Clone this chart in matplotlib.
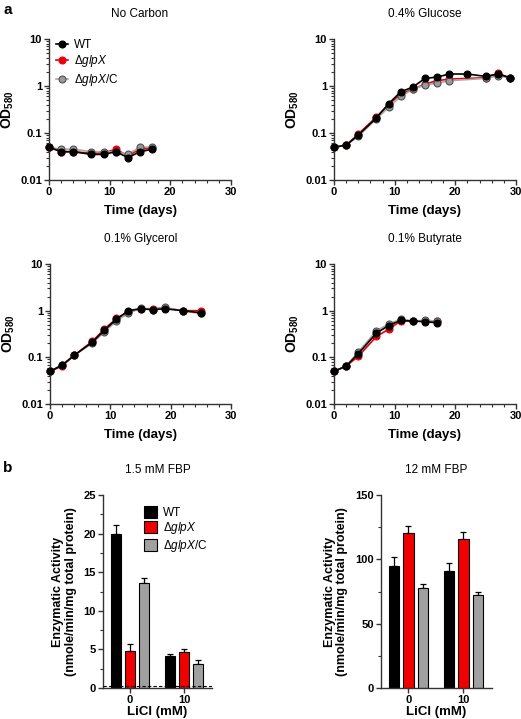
import matplotlib
matplotlib.use("Agg")
import matplotlib.pyplot as plt
import numpy as np
from matplotlib.ticker import MultipleLocator, LogLocator, NullFormatter

plt.rcParams["font.family"] = ["Liberation Sans", "DejaVu Sans"]
plt.rcParams["mathtext.fontset"] = "custom"
plt.rcParams["mathtext.rm"] = "Liberation Sans"
plt.rcParams["mathtext.it"] = "Liberation Sans:italic"
plt.rcParams["mathtext.bf"] = "Liberation Sans:bold"

# ====== DATA ======
STRAINS = ["WT", r"$\Delta$$\it{glpX}$", r"$\Delta$$\it{glpX}$/C"]

# growth curves (OD580)
nocarb_t = [0, 2, 4, 7, 9, 11, 13, 15, 17]
nocarb_wt = [0.05, 0.04, 0.04, 0.035, 0.035, 0.04, 0.03, 0.04, 0.045]
nocarb_ko = [0.05, 0.04, 0.04, 0.037, 0.038, 0.045, 0.033, 0.045, 0.048]
nocarb_c = [0.05, 0.045, 0.045, 0.04, 0.04, 0.04, 0.035, 0.05, 0.05]

gluc_t_wt = [0, 2, 4, 7, 9, 11, 13, 15, 17, 19, 22, 25, 27, 29]
gluc_wt = [0.05, 0.055, 0.09, 0.21, 0.42, 0.75, 0.95, 1.45, 1.55, 1.8, 1.8, 1.6, 1.8, 1.5]
gluc_t = [0, 2, 4, 7, 9, 11, 13, 15, 17, 19, 25, 27, 29]
gluc_ko = [0.05, 0.055, 0.095, 0.22, 0.4, 0.68, 0.85, 1.1, 1.3, 1.4, 1.5, 1.85, 1.5]
gluc_c = [0.05, 0.055, 0.085, 0.2, 0.35, 0.6, 0.85, 1.05, 1.15, 1.3, 1.45, 1.65, 1.5]

glyc_t = [0, 2, 4, 7, 9, 11, 13, 15, 17, 19, 22, 25]
glyc_wt = [0.05, 0.068, 0.11, 0.21, 0.38, 0.65, 1.0, 1.1, 1.05, 1.1, 1.0, 0.9]
glyc_ko = [0.05, 0.065, 0.11, 0.22, 0.4, 0.68, 0.95, 1.1, 1.1, 1.15, 1.0, 1.0]
glyc_c = [0.05, 0.07, 0.11, 0.2, 0.35, 0.6, 0.88, 1.12, 1.05, 1.18, 0.98, 0.87]

buty_t = [0, 2, 4, 7, 9, 11, 13, 15, 17]
buty_wt = [0.05, 0.065, 0.12, 0.33, 0.48, 0.62, 0.6, 0.58, 0.55]
buty_ko = [0.05, 0.065, 0.105, 0.28, 0.4, 0.6, 0.6, 0.6, 0.6]
buty_c = [0.05, 0.065, 0.13, 0.37, 0.52, 0.65, 0.6, 0.62, 0.6]

# enzyme activity
licl = ["0", "10"]
fbp15_mean = {"WT": [19.9, 4.15], "KO": [4.8, 4.6], "C": [13.65, 3.15]}
fbp15_err = {"WT": [1.2, 0.2], "KO": [0.95, 0.4], "C": [0.65, 0.5]}
fbp12_mean = {"WT": [94.9, 91.0], "KO": [120.2, 116.1], "C": [77.8, 72.4]}
fbp12_err = {"WT": [7.2, 6.5], "KO": [5.7, 5.2], "C": [3.1, 2.3]}
detect_limit = 0.3
# ==================

W, H = 521, 719
fig = plt.figure(figsize=(W / 100, H / 100), dpi=100)


def ax_px(l, t, r, b):
    return fig.add_axes([l / W, 1 - b / H, (r - l) / W, (b - t) / H])


LINE_COLORS = ["black", "#e8000b", "#a8a8a8"]
MFC = ["black", "#e8000b", "#9a9a9a"]
MEC = ["black", "#e8000b", "#505050"]
SPINE = "#333333"


def style_axes(ax):
    for s in ("top", "right"):
        ax.spines[s].set_visible(False)
    for s in ("left", "bottom"):
        ax.spines[s].set_linewidth(1.0)
        ax.spines[s].set_color(SPINE)
    ax.tick_params(which="major", length=3.5, width=1.0, color=SPINE,
                   labelsize=8, pad=1.5)
    ax.tick_params(which="minor", length=2, width=0.8, color=SPINE)
    for lb in ax.get_xticklabels() + ax.get_yticklabels():
        lb.set_fontweight("bold")


def growth(ax, title, series, legend=False):
    for k, (t, y) in enumerate(series):
        ax.plot(t, y, color=LINE_COLORS[k], lw=1.2, marker="o", ms=5,
                mfc=MFC[k], mec=MEC[k], mew=0.8, clip_on=False,
                label=STRAINS[k], zorder=3 + (k == 0))
    ax.set_yscale("log")
    ax.set_ylim(0.01, 10)
    ax.set_xlim(0, 30)
    ax.set_xticks([0, 10, 20, 30])
    ax.xaxis.set_minor_locator(MultipleLocator(2))
    ax.set_yticks([0.01, 0.1, 1, 10])
    ax.set_yticklabels(["0.01", "0.1", "1", "10"])
    ax.yaxis.set_minor_locator(LogLocator(base=10, subs=np.arange(2, 10)))
    ax.yaxis.set_minor_formatter(NullFormatter())
    ax.set_xlabel("Time (days)", fontsize=9.5, fontweight="bold", labelpad=6)
    ax.set_ylabel(r"$\mathbf{OD_{580}}$", fontsize=10, labelpad=3)
    ax.set_title(title, fontsize=8.5, pad=16)
    style_axes(ax)
    if legend:
        ax.legend(loc="upper left", bbox_to_anchor=(0.0, 1.05), frameon=False,
                  fontsize=8.5, handlelength=1.0, handletextpad=0.5,
                  labelspacing=0.2, borderaxespad=0.2)


a1 = ax_px(49, 39, 231, 180)
growth(a1, "No Carbon", [(nocarb_t, nocarb_wt), (nocarb_t, nocarb_ko), (nocarb_t, nocarb_c)], legend=True)
a2 = ax_px(334, 39, 516, 180)
growth(a2, "0.4% Glucose", [(gluc_t_wt, gluc_wt), (gluc_t, gluc_ko), (gluc_t, gluc_c)])
a3 = ax_px(50, 264, 231, 404)
growth(a3, "0.1% Glycerol", [(glyc_t, glyc_wt), (glyc_t, glyc_ko), (glyc_t, glyc_c)])
a4 = ax_px(334, 264, 516, 404)
growth(a4, "0.1% Butyrate", [(buty_t, buty_wt), (buty_t, buty_ko), (buty_t, buty_c)])

BAR_COLORS = ["black", "#f00000", "#a0a0a0"]
KEYS = ["WT", "KO", "C"]


def bars(ax, title, means, errs, ymax, ymaj, legend=False, dashed=None):
    x = np.arange(len(licl))
    width, step = 0.19, 0.265
    for k, key in enumerate(KEYS):
        xs = x + (k - 1) * step
        ax.bar(xs, means[key], width=width, color=BAR_COLORS[k],
               edgecolor="black", lw=0.8, label=STRAINS[k], zorder=2)
        ax.errorbar(xs, means[key], yerr=[np.zeros(len(xs)), errs[key]],
                    fmt="none", ecolor="black", elinewidth=0.9, capsize=2.5,
                    capthick=0.9, zorder=1)
    if dashed is not None:
        ax.axhline(dashed, color="black", ls=(0, (3, 2)), lw=0.8, zorder=3)
    ax.set_xlim(-0.5, 1.52)
    ax.set_ylim(0, ymax)
    ax.set_xticks(x)
    ax.set_xticklabels(licl)
    ax.yaxis.set_major_locator(MultipleLocator(ymaj))
    ax.yaxis.set_minor_locator(MultipleLocator(ymaj / 2))
    ax.set_xlabel("LiCl (mM)", fontsize=9.5, fontweight="bold", labelpad=1)
    ax.set_ylabel("Enzymatic Activity\n(nmole/min/mg total protein)",
                  fontsize=9, fontweight="bold", labelpad=5, linespacing=1.1)
    ax.set_title(title, fontsize=8.5, pad=16)
    style_axes(ax)
    if legend:
        ax.legend(loc="upper right", bbox_to_anchor=(1.06, 1.0), frameon=False,
                  fontsize=8.5, handlelength=1.1, handleheight=1.2,
                  handletextpad=0.5, labelspacing=0.15)


b1 = ax_px(103, 495, 212, 688)
bars(b1, "1.5 mM FBP", fbp15_mean, fbp15_err, 25, 5, legend=True, dashed=detect_limit)
b2 = ax_px(381, 495, 492, 688)
bars(b2, "12 mM FBP", fbp12_mean, fbp12_err, 150, 50)

fig.text(3 / W, 1 - 10 / H, "a", fontsize=11, fontweight="bold", va="center")
fig.text(3 / W, 1 - 468 / H, "b", fontsize=11, fontweight="bold", va="center")

fig.savefig("out.png", dpi=100)
